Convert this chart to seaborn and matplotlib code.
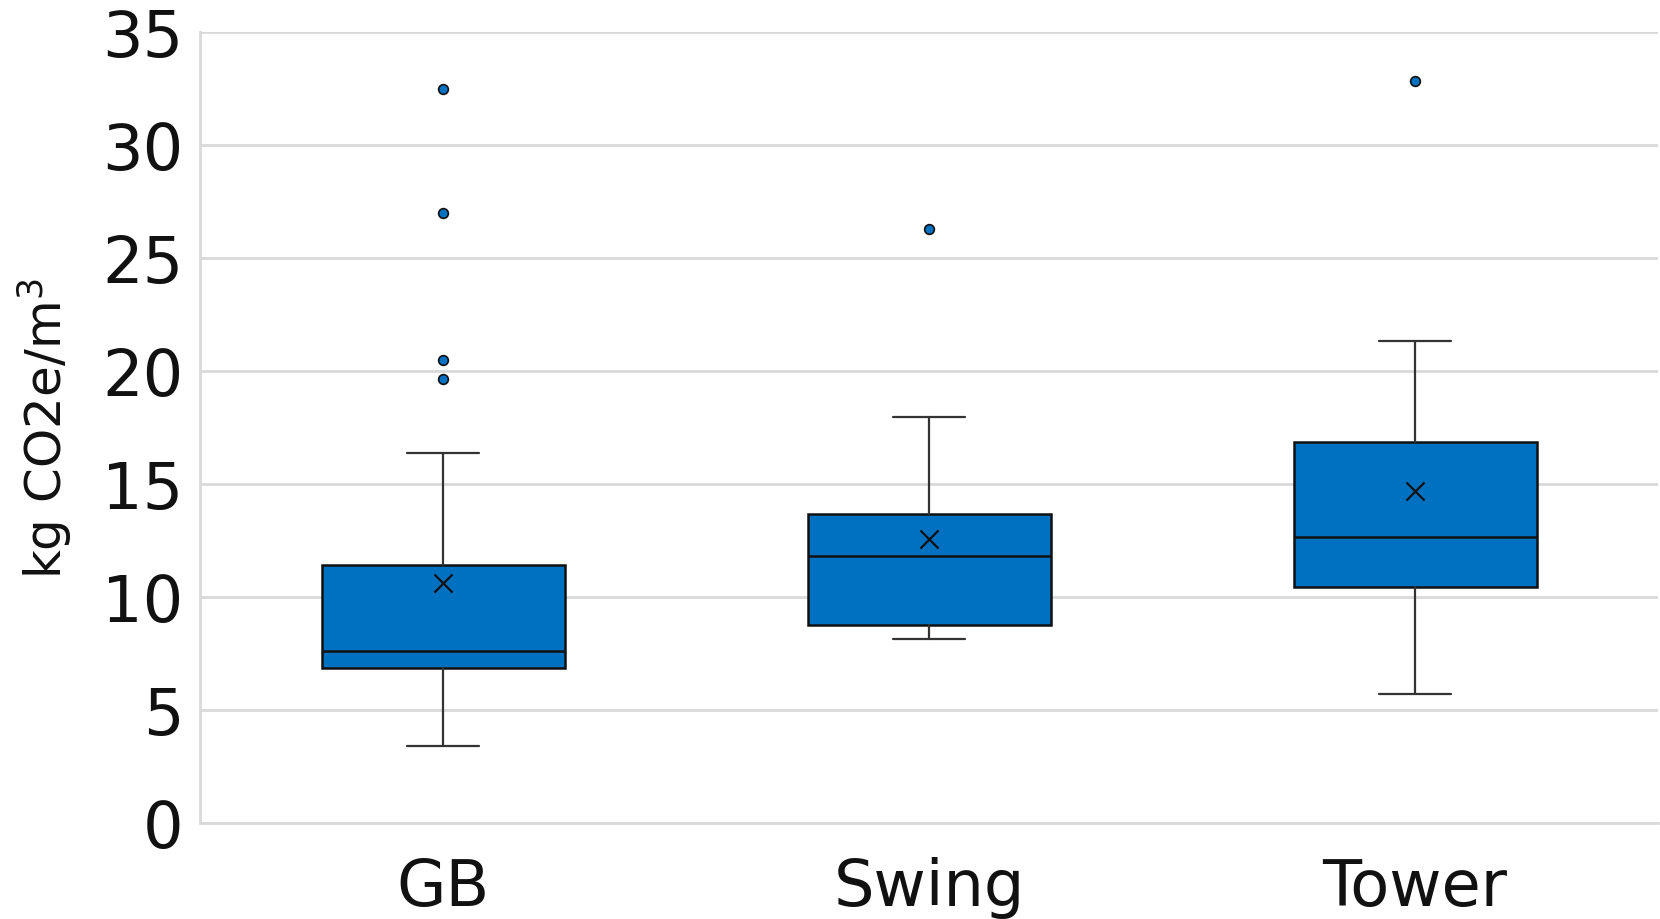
import matplotlib
matplotlib.use("Agg")
import matplotlib.pyplot as plt
import seaborn as sns
import pandas as pd

categories = ["GB", "Swing", "Tower"]
whisker_low = [3.40, 8.16, 5.72]
q1 = [6.84, 8.76, 10.44]
medians = [7.60, 11.81, 12.66]
q3 = [11.40, 13.67, 16.86]
whisker_high = [16.35, 17.97, 21.30]
means = [10.63, 12.55, 14.67]
outliers = [[32.47, 26.96, 20.50, 19.62], [26.28], [32.80]]

yticks = [0, 5, 10, 15, 20, 25, 30, 35]
ylabel = "kg CO2e/m$^3$"

BLUE = "#0070C0"
GRID = "#D9D9D9"

sns.set_theme(style="whitegrid")
plt.rcParams["font.family"] = ["DejaVu Sans"]

fig = plt.figure(figsize=(16.6, 9.2), dpi=100)
ax = fig.add_axes([200 / 1660, 96 / 920, 1458 / 1660, 791.3 / 920])

stats = []
for i, c in enumerate(categories):
    stats.append(dict(label=c, whislo=whisker_low[i], q1=q1[i], med=medians[i],
                      q3=q3[i], whishi=whisker_high[i], mean=means[i],
                      fliers=outliers[i]))

positions = list(range(len(categories)))
ax.bxp(stats, positions=positions, widths=0.5, capwidths=0.148,
       showmeans=False, showfliers=True, patch_artist=True,
       boxprops=dict(facecolor=BLUE, edgecolor="#111111", linewidth=1.8),
       medianprops=dict(color="#111111", linewidth=1.8),
       whiskerprops=dict(color="#333333", linewidth=1.6),
       capprops=dict(color="#333333", linewidth=1.6),
       flierprops=dict(marker="o", markerfacecolor=BLUE, markeredgecolor="#111111",
                       markersize=7, markeredgewidth=1.2, linestyle="none"),
       zorder=3)

df_means = pd.DataFrame({"pos": positions, "mean": means})
sns.scatterplot(data=df_means, x="pos", y="mean", marker="x", color="#111111",
                s=170, linewidth=1.6, ax=ax, zorder=5, legend=False)

ax.set_xlim(-0.5, len(categories) - 0.5)
ax.set_ylim(0, 35)
ax.set_yticks(yticks)
ax.set_yticklabels([str(v) for v in yticks])
ax.set_xticks(positions)
ax.set_xticklabels(categories)
ax.set_xlabel("")
ax.set_ylabel(ylabel, fontsize=36, color="#111111", labelpad=20)

ax.tick_params(axis="y", labelsize=46, pad=12, length=0, colors="#111111")
ax.tick_params(axis="x", labelsize=46, pad=24, length=0, colors="#111111")

ax.grid(axis="y", color=GRID, linewidth=2)
ax.grid(axis="x", visible=False)
ax.set_axisbelow(True)
for side in ["top", "right"]:
    ax.spines[side].set_visible(False)
for side in ["left", "bottom"]:
    ax.spines[side].set_color(GRID)
    ax.spines[side].set_linewidth(2)
ax.set_facecolor("white")
fig.patch.set_facecolor("white")

fig.savefig("out.png", dpi=100, facecolor="white")
